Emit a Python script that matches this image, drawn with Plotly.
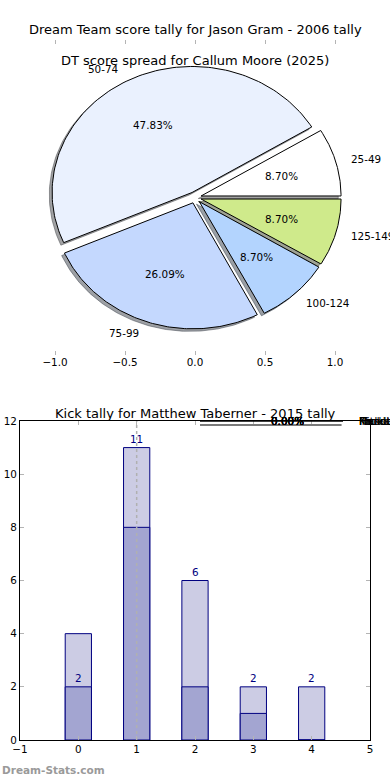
import numpy as np
import plotly.graph_objects as go

W, H = 390, 780
FONT = "DejaVu Sans"

# ---------------- data ----------------
main_title = "Dream Team score tally for Jason Gram - 2006 tally"
pie_title = "DT score spread for Callum Moore (2025)"
bar_title = "Kick tally for Matthew Taberner - 2015 tally"
watermark = "Dream-Stats.com"

pie_labels = ["25-49", "50-74", "75-99", "100-124", "125-149"]
pie_counts = [2, 11, 6, 2, 2]
pie_colors = ["#ffffff", "#eaf1fe", "#c4d8fe", "#b3d4fe", "#cfea8b"]

bar_categories = [0, 1, 2, 3, 4]
tally_total = [4, 11, 6, 2, 2]
tally_part = [2, 8, 2, 1, 0]
bar_value_labels = [2, 11, 6, 2, 2]

glitch_labels = ["Kicks", "Handballs", "Marks", "Tackles", "Hitouts"]
glitch_values = [0, 0, 0, 0, 0]

pie_ticks = [-1.0, -0.5, 0.0, 0.5, 1.0]
bar_xticks = [-1, 0, 1, 2, 3, 4, 5]
bar_yticks = [0, 2, 4, 6, 8, 10, 12]

# ---------------- style ----------------
EXPLODE = 0.045
SHADOW = 0.02
LABEL_FS = 10.4
TITLE_FS = 13
TICK_GRAY = "#b4b4b4"
NAVY = "#000080"
LIGHT_BAR = "#cccce4"
DARK_BAR = "#a3a5d1"


def px_x(p):
    return p / W


def px_y(p):
    return 1 - p / H


def minus(s):
    return s.replace("-", "\u2212")


def hex_rgb(h):
    h = h.lstrip("#")
    return [int(h[i:i + 2], 16) for i in (0, 2, 4)]


fig = go.Figure()
annotations = []

# ---------------- pie (drawn on x/y axes) ----------------
fracs = np.array(pie_counts, dtype=float) / sum(pie_counts)
edges = np.concatenate([[0.0], np.cumsum(fracs)]) * 2 * np.pi

wedges = []
for i, lab in enumerate(pie_labels):
    a1, a2 = edges[i], edges[i + 1]
    mid = 0.5 * (a1 + a2)
    ox, oy = EXPLODE * np.cos(mid), EXPLODE * np.sin(mid)
    t = np.linspace(a1, a2, 120)
    xs = np.concatenate([[ox], ox + np.cos(t), [ox]])
    ys = np.concatenate([[oy], oy + np.sin(t), [oy]])
    wedges.append((xs, ys, mid, ox, oy))

# shadows first
for i, (xs, ys, mid, ox, oy) in enumerate(wedges):
    r, g, b = [0.3 * c for c in hex_rgb(pie_colors[i])]
    col = f"rgba({r:.0f},{g:.0f},{b:.0f},0.5)"
    fig.add_trace(go.Scatter(x=xs - SHADOW, y=ys - SHADOW, mode="lines", fill="toself",
                             fillcolor=col, line=dict(color=col, width=1),
                             hoverinfo="skip", showlegend=False, xaxis="x", yaxis="y"))
for i, (xs, ys, mid, ox, oy) in enumerate(wedges):
    fig.add_trace(go.Scatter(x=xs, y=ys, mode="lines", fill="toself",
                             fillcolor=pie_colors[i], line=dict(color="black", width=1),
                             hoverinfo="skip", showlegend=False, xaxis="x", yaxis="y"))
    # outer label
    xt = ox + 1.1 * np.cos(mid)
    yt = oy + 1.1 * np.sin(mid)
    annotations.append(dict(x=xt, y=yt, xref="x", yref="y", text=pie_labels[i], showarrow=False,
                            xanchor="left" if xt > 0 else "right", yanchor="middle",
                            font=dict(family=FONT, size=LABEL_FS, color="black")))
    # pct label
    annotations.append(dict(x=ox + 0.6 * np.cos(mid), y=oy + 0.6 * np.sin(mid), xref="x", yref="y",
                            text=f"{100 * fracs[i]:.2f}%", showarrow=False,
                            xanchor="center", yanchor="middle",
                            font=dict(family=FONT, size=LABEL_FS, color="black")))

# top tick row of the pie axes
fig.add_trace(go.Scatter(x=[], y=[], mode="lines", hoverinfo="skip", showlegend=False,
                         xaxis="x4", yaxis="y"))

# ---------------- bar chart ----------------
fig.add_trace(go.Bar(x=bar_categories, y=tally_total, width=0.45,
                     marker=dict(color=LIGHT_BAR, line=dict(color=NAVY, width=1)),
                     hoverinfo="skip", showlegend=False, xaxis="x2", yaxis="y2"))
fig.add_trace(go.Bar(x=bar_categories, y=tally_part, width=0.45,
                     marker=dict(color=DARK_BAR, line=dict(color=NAVY, width=1)),
                     hoverinfo="skip", showlegend=False, xaxis="x2", yaxis="y2"))
hx = bar_categories[int(np.argmax(tally_total))]
fig.add_trace(go.Scatter(x=[hx, hx], y=[bar_yticks[0], bar_yticks[-1]], mode="lines",
                         line=dict(color="#b0b0b0", width=1.5, dash="dot"),
                         hoverinfo="skip", showlegend=False, xaxis="x2", yaxis="y2"))
for c, v in zip(bar_categories, bar_value_labels):
    annotations.append(dict(x=c, y=v, xref="x2", yref="y2", text=str(v), showarrow=False,
                            xanchor="center", yanchor="bottom", yshift=1,
                            font=dict(family=FONT, size=LABEL_FS, color=NAVY)))

# ---------------- collapsed pie artifact ----------------
fig.add_trace(go.Scatter(x=[-1 - SHADOW, 1 - SHADOW], y=[-1, -1], mode="lines",
                         line=dict(color="#7a7a7a", width=2),
                         hoverinfo="skip", showlegend=False, xaxis="x3", yaxis="y3"))
fig.add_trace(go.Scatter(x=[-1, 1], y=[0, 0], mode="lines",
                         line=dict(color="black", width=1.5),
                         hoverinfo="skip", showlegend=False, xaxis="x3", yaxis="y3"))
for lab, v in zip(glitch_labels, glitch_values):
    annotations.append(dict(x=0.22, y=0, xref="x3", yref="y3", text=f"{v:.2f}%", showarrow=False,
                            xanchor="center", yanchor="middle",
                            font=dict(family=FONT, size=LABEL_FS, color="black")))
    annotations.append(dict(x=1.2, y=0, xref="x3", yref="y3", text=lab, showarrow=False,
                            xanchor="left", yanchor="middle",
                            font=dict(family=FONT, size=LABEL_FS, color="black")))

# ---------------- titles ----------------
annotations.append(dict(x=px_x(195), y=px_y(30), xref="paper", yref="paper", text=main_title,
                        showarrow=False, xanchor="center", yanchor="middle",
                        font=dict(family=FONT, size=TITLE_FS, color="black")))
annotations.append(dict(x=px_x(195), y=px_y(61), xref="paper", yref="paper", text=pie_title,
                        showarrow=False, xanchor="center", yanchor="middle",
                        font=dict(family=FONT, size=TITLE_FS, color="black")))
annotations.append(dict(x=px_x(195), y=px_y(413), xref="paper", yref="paper", text=bar_title,
                        showarrow=False, xanchor="center", yanchor="middle",
                        font=dict(family=FONT, size=TITLE_FS, color="black")))
annotations.append(dict(x=0, y=px_y(770), xref="paper", yref="paper", text=watermark,
                        showarrow=False, xanchor="left", yanchor="middle",
                        font=dict(family=FONT, size=10.5, color="#9a9a9a", weight="bold")))

# collapsed-axis scale: -1 -> 200px, 1 -> 343px, extended to the page edge
x3_right = 1 + (W - 343) * 2 / (343 - 200)

tickfont = dict(family=FONT, size=LABEL_FS, color="black")
fig.update_layout(
    width=W, height=H, margin=dict(l=0, r=0, t=0, b=0, pad=0, autoexpand=False),
    paper_bgcolor="white", plot_bgcolor="rgba(0,0,0,0)",
    barmode="overlay", showlegend=False,
    annotations=annotations,
    xaxis=dict(domain=[px_x(20), px_x(370)], range=[-1.25, 1.25], anchor="y", automargin=False,
               tickvals=pie_ticks, ticktext=[minus(f"{v:.1f}") for v in pie_ticks],
               ticks="inside", ticklen=4, tickwidth=1, tickcolor=TICK_GRAY,
               showline=False, showgrid=False, zeroline=False, tickfont=tickfont, fixedrange=True),
    xaxis4=dict(overlaying="x", side="top", anchor="y", range=[-1.25, 1.25], automargin=False,
                tickvals=pie_ticks, showticklabels=False,
                ticks="inside", ticklen=4, tickwidth=1, tickcolor=TICK_GRAY,
                showline=False, showgrid=False, zeroline=False, fixedrange=True),
    yaxis=dict(domain=[px_y(355), px_y(40)], range=[-1.25, 1.25], anchor="x", automargin=False,
               showticklabels=False, ticks="", showline=False, showgrid=False, zeroline=False,
               fixedrange=True),
    xaxis2=dict(domain=[px_x(20), px_x(370)], range=[bar_xticks[0], bar_xticks[-1]], anchor="y2",
                automargin=False,
                tickvals=bar_xticks, ticktext=[minus(str(v)) for v in bar_xticks],
                ticks="inside", ticklen=4, tickwidth=1, tickcolor=TICK_GRAY, mirror="allticks",
                showline=True, linecolor="black", linewidth=1,
                showgrid=False, zeroline=False, tickfont=tickfont, fixedrange=True),
    yaxis2=dict(domain=[px_y(740), px_y(421)], range=[bar_yticks[0], bar_yticks[-1]], anchor="x2",
                automargin=False,
                tickvals=bar_yticks, ticktext=[str(v) for v in bar_yticks],
                ticks="inside", ticklen=4, tickwidth=1, tickcolor=TICK_GRAY, mirror="allticks",
                showline=True, linecolor="black", linewidth=1,
                showgrid=False, zeroline=False, tickfont=tickfont, fixedrange=True),
    xaxis3=dict(domain=[px_x(200), 1.0], range=[-1, x3_right], anchor="y3", visible=False,
                automargin=False, fixedrange=True),
    yaxis3=dict(domain=[px_y(430), px_y(413)], range=[-2.25, 2], anchor="x3", visible=False,
                automargin=False, fixedrange=True),
)

fig.write_html("out.html", config={"displayModeBar": False},
               post_script="document.body.style.margin='0';document.body.style.overflow='hidden';")
